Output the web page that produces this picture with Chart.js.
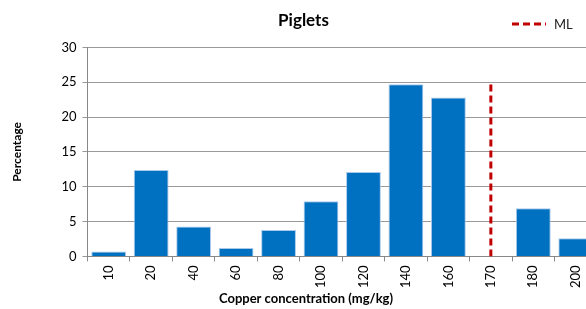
<!DOCTYPE html>
<html>
<head>
<meta charset="utf-8">
<script src="https://cdn.jsdelivr.net/npm/chart.js@4"></script>
<style>
  html, body { margin: 0; padding: 0; background: #fff; overflow: hidden; }
  #wrap { width: 600px; height: 309px; }
</style>
</head>
<body>
<div id="wrap"><canvas id="grafica" width="600" height="309"></canvas></div>
<script>
const categorias = ['10', '20', '40', '60', '80', '100', '120', '140', '160', '170', '180', '200'];
const porcentajes = [0.7, 12.4, 4.3, 1.2, 3.8, 7.9, 12.1, 24.7, 22.8, null, 6.9, 2.6];
const limiteML = '170';
const limiteAltura = [0, 24.7];
const ticksY = [0, 5, 10, 15, 20, 25, 30];

const fuente = 'Lato, "Open Sans", sans-serif';

// leyenda manual arriba a la derecha (ML)
const leyendaML = {
    id: 'leyendaML',
    afterDraw(c) {
        const ctx = c.ctx;
        ctx.save();
        ctx.strokeStyle = '#c00000';
        ctx.lineWidth = 3;
        ctx.setLineDash([7, 4]);
        ctx.beginPath();
        ctx.moveTo(512, 24);
        ctx.lineTo(546, 24);
        ctx.stroke();
        ctx.setLineDash([]);
        ctx.fillStyle = '#222';
        ctx.font = '13px ' + fuente;
        ctx.textBaseline = 'middle';
        ctx.fillText('ML', 554, 25);
        // titulo eje x
        ctx.font = 'bold 13px ' + fuente;
        ctx.textAlign = 'center';
        ctx.fillStyle = '#000';
        ctx.fillText('Copper concentration (mg/kg)', 306, 299);
        ctx.restore();
    }
};

const ctx = document.getElementById('grafica').getContext('2d');
new Chart(ctx, {
    data: {
        labels: categorias,
        datasets: [{
            type: 'bar',
            label: 'Piglets',
            data: porcentajes,
            backgroundColor: '#0070c0',
            borderColor: '#a9c8ea',
            borderWidth: 1,
            barPercentage: 0.82,
            categoryPercentage: 1,
            order: 2
        }, {
            type: 'line',
            label: 'ML',
            data: limiteAltura.map(v => ({ x: limiteML, y: v })),
            borderColor: '#c00000',
            borderWidth: 3,
            borderDash: [7, 4],
            pointRadius: 0,
            fill: false,
            order: 1
        }]
    },
    options: {
        responsive: false,
        animation: false,
        layout: { padding: { top: 2, right: 3, left: 10, bottom: 17 } },
        plugins: {
            legend: { display: false },
            tooltip: { enabled: false },
            title: {
                display: true,
                text: 'Piglets',
                color: '#000',
                font: { family: fuente, size: 17, weight: 'bold' },
                padding: { top: 8, bottom: 17 }
            }
        },
        scales: {
            x: {
                grid: {
                    offset: true,
                    drawOnChartArea: false,
                    tickLength: 5,
                    color: '#888'
                },
                border: { color: '#888', width: 1 },
                ticks: {
                    minRotation: 90,
                    maxRotation: 90,
                    color: '#000',
                    padding: 4,
                    font: { family: fuente, size: 13 }
                }
            },
            y: {
                min: 0,
                max: 30,
                afterBuildTicks: s => { s.ticks = ticksY.map(v => ({ value: v })); },
                grid: { color: '#999', tickLength: 5 },
                border: { color: '#888', width: 1 },
                ticks: {
                    color: '#000',
                    padding: 6,
                    font: { family: fuente, size: 13 }
                },
                title: {
                    display: true,
                    text: 'Percentage',
                    color: '#000',
                    font: { family: fuente, size: 12, weight: 'bold' },
                    padding: { top: 0, bottom: 31 }
                }
            }
        }
    },
    plugins: [leyendaML]
});
</script>
</body>
</html>
